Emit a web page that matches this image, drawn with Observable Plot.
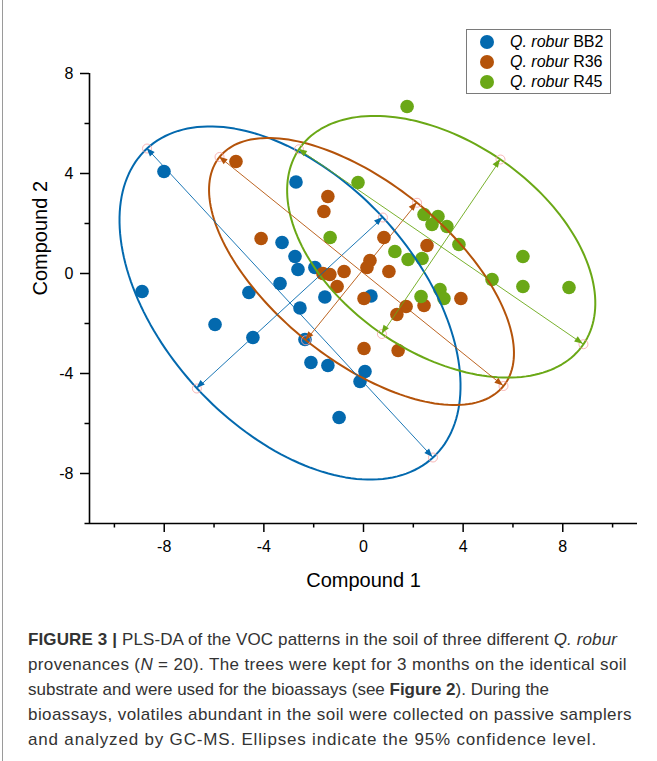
<!DOCTYPE html>
<html><head><meta charset="utf-8">
<script src="https://cdn.jsdelivr.net/npm/d3@7"></script>
<script src="https://cdn.jsdelivr.net/npm/@observablehq/plot@0.6"></script>
<style>
body{margin:0;background:#fff;}
#wrap{position:relative;width:657px;height:761px;overflow:hidden;font-family:"Liberation Sans",Arial,sans-serif;background:#fff;}
#border{position:absolute;left:2px;top:0;width:1px;height:761px;background:#9a9a9a;}
#chart{position:absolute;left:0;top:0;}
#legendBox{position:absolute;left:466px;top:29px;width:145px;height:65px;border:1px solid #7a7a7a;box-sizing:border-box;background:#fff;}
.lg-dot{position:absolute;width:14px;height:14px;border-radius:50%;}
.lg-txt{position:absolute;font-size:16px;line-height:20px;color:#000;white-space:nowrap;}
#caption{position:absolute;left:28px;top:627px;font-size:17px;line-height:25px;color:#333;}
#caption .ln{white-space:nowrap;height:25px;}
#caption .ln span.m{display:inline-block;}
</style></head>
<body>
<div id="wrap">
  <div id="border"></div>
  <div id="chart"></div>
  <div id="legendBox"></div>
  <div id="legendItems"></div>
  <div id="caption">
    <div class="ln"><span class="m"><b>FIGURE 3 |</b> PLS-DA of the VOC patterns in the soil of three different <i>Q. robur</i></span></div>
    <div class="ln"><span class="m">provenances (<i>N</i> = 20). The trees were kept for 3 months on the identical soil</span></div>
    <div class="ln"><span class="m">substrate and were used for the bioassays (see <b>Figure 2</b>). During the</span></div>
    <div class="ln"><span class="m">bioassays, volatiles abundant in the soil were collected on passive samplers</span></div>
    <div class="ln"><span class="m">and analyzed by GC-MS. Ellipses indicate the 95% confidence level.</span></div>
  </div>
</div>
<script>
// ---- data ----
const groups = ["BB2", "R36", "R45"];
const colors = ["#0369ae", "#b4530a", "#6aa816"];

const bb2X = [-8.01, -8.89, -5.96, -4.60, -4.44, -2.71, -3.27, -2.75, -2.63, -1.95, -3.35, -2.55, -1.55, -2.35, -2.11, -1.43, 0.06, -0.14, -0.98, 0.30];
const bb2Y = [4.08, -0.72, -2.04, -0.76, -2.56, 3.66, 1.24, 0.68, 0.16, 0.24, -0.40, -1.38, -0.94, -2.64, -3.56, -3.68, -3.92, -4.32, -5.76, -0.90];

const r36X = [-5.12, -4.11, -1.43, -1.59, 0.82, 2.55, 0.26, 0.14, -0.78, -1.63, -1.35, 1.02, -1.06, 0.02, 1.71, 1.34, 2.43, 3.91, 0.02, 1.39];
const r36Y = [4.48, 1.40, 3.08, 2.48, 1.44, 1.12, 0.52, 0.24, 0.08, 0.00, -0.04, 0.08, -0.52, -1.00, -1.32, -1.64, -1.28, -1.00, -3.00, -3.08];

const r45X = [1.75, -0.22, -1.34, 2.43, 2.99, 2.75, 3.35, 3.83, 1.26, 1.79, 2.35, 3.07, 3.23, 2.31, 5.16, 6.40, 6.40, 8.25];
const r45Y = [6.68, 3.64, 1.44, 2.36, 2.28, 1.96, 1.88, 1.16, 0.88, 0.56, 0.60, -0.64, -1.00, -0.92, -0.24, 0.68, -0.52, -0.56];

// 95% confidence ellipses: centre and the two ends of each principal axis
const ellipseCenterX = [-2.95, -0.08, 3.12];
const ellipseCenterY = [-1.18, 0.08, 1.07];
const majorEndX = [[-8.69, 2.79], [-5.78, 5.62], [-2.59, 8.83]];
const majorEndY = [[5.00, -7.36], [4.66, -4.50], [4.97, -2.83]];
const minorEndX = [[0.78, -6.69], [2.15, -2.31], [5.50, 0.74]];
const minorEndY = [[2.24, -4.60], [2.83, -2.67], [4.56, -2.42]];

const majorTicks = [-8, -4, 0, 4, 8];
const minorXTicks = [-10, -6, -2, 2, 6, 10];
const minorYTicks = [-10, -6, -2, 2, 6];

// ---- build tables ----
const seriesX = [bb2X, r36X, r45X], seriesY = [bb2Y, r36Y, r45Y];
const points = [];
groups.forEach((g, gi) => seriesX[gi].forEach((x, i) => points.push({g, x, y: seriesY[gi][i]})));

const ellipsePts = [];
const axisLines = [];
const axisEnds = [];
groups.forEach((g, gi) => {
  const cx = ellipseCenterX[gi], cy = ellipseCenterY[gi];
  const ax = majorEndX[gi][1] - cx, ay = majorEndY[gi][1] - cy;
  const bx = minorEndX[gi][0] - cx, by = minorEndY[gi][0] - cy;
  for (let k = 0; k <= 180; k++) {
    const t = k / 180 * 2 * Math.PI;
    ellipsePts.push({g, x: cx + Math.cos(t) * ax + Math.sin(t) * bx, y: cy + Math.cos(t) * ay + Math.sin(t) * by});
  }
  axisLines.push({g, x1: majorEndX[gi][0], y1: majorEndY[gi][0], x2: majorEndX[gi][1], y2: majorEndY[gi][1]});
  axisLines.push({g, x1: minorEndX[gi][0], y1: minorEndY[gi][0], x2: minorEndX[gi][1], y2: minorEndY[gi][1]});
  for (let j = 0; j < 2; j++) {
    axisEnds.push({g, x: majorEndX[gi][j], y: majorEndY[gi][j], cx, cy});
    axisEnds.push({g, x: minorEndX[gi][j], y: minorEndY[gi][j], cx, cy});
  }
});

const colorOf = g => colors[groups.indexOf(g)];

const plot = Plot.plot({
  width: 657,
  height: 600,
  marginLeft: 89,
  marginRight: 20,
  marginTop: 73,
  marginBottom: 77,
  x: {domain: [-11, 11], label: null},
  y: {domain: [-10, 8], label: null},
  style: {fontFamily: "Liberation Sans, Arial, sans-serif", fontSize: "16px", color: "#000", background: "transparent", overflow: "visible"},
  marks: [
    Plot.dot(points, {x: "x", y: "y", r: 6.8, fill: d => colorOf(d.g), stroke: null}),
    Plot.line(ellipsePts, {x: "x", y: "y", z: "g", stroke: d => colorOf(d.g), strokeWidth: 2}),
    Plot.link(axisLines, {x1: "x1", y1: "y1", x2: "x2", y2: "y2", stroke: d => colorOf(d.g), strokeWidth: 0.9}),
    Plot.dot(axisEnds, {x: "x", y: "y", r: 4.5, stroke: "#f6a3a3", strokeWidth: 0.8, fill: "none"}),
    Plot.ruleX([-11], {stroke: "#000", strokeWidth: 1.6}),
    Plot.ruleY([-10], {stroke: "#000", strokeWidth: 1.6}),
    Plot.axisX({ticks: majorTicks, tickSize: 9, tickPadding: 8, tickFormat: d => String(d), fontSize: 16, strokeWidth: 1.5, label: null}),
    Plot.axisX({ticks: minorXTicks, tickSize: 4.5, tickFormat: () => "", strokeWidth: 1.5, label: null}),
    Plot.axisY({ticks: majorTicks, tickSize: 9, tickPadding: 7, tickFormat: d => String(d), fontSize: 16, strokeWidth: 1.5, label: null}),
    Plot.axisY({ticks: minorYTicks, tickSize: 4.5, tickFormat: () => "", strokeWidth: 1.5, label: null}),
    Plot.text(["Compound 1"], {text: d => d, frameAnchor: "bottom", dy: 57, fontSize: 20, lineAnchor: "middle", fill: "#000"}),
    Plot.text(["Compound 2"], {text: d => d, frameAnchor: "left", dx: -49, dy: -3, rotate: -90, fontSize: 20, lineAnchor: "middle", fill: "#000"})
  ]
});
document.getElementById("chart").appendChild(plot);

// filled arrowheads at both ends of every principal axis, positioned with Plot's scales
const sx = plot.scale("x"), sy = plot.scale("y");
const svg = d3.select(plot.tagName.toLowerCase() === "svg" ? plot : plot.querySelector("svg"));
const headLen = 8.5, headHalf = 3.2;
axisEnds.forEach(e => {
  const px = sx.apply(e.x), py = sy.apply(e.y);
  const qx = sx.apply(e.cx), qy = sy.apply(e.cy);
  const L = Math.hypot(px - qx, py - qy);
  const ux = (px - qx) / L, uy = (py - qy) / L;
  const bx = px - ux * headLen, by = py - uy * headLen;
  const nx = -uy, ny = ux;
  svg.append("polygon")
    .attr("points", `${px},${py} ${bx + nx * headHalf},${by + ny * headHalf} ${bx - nx * headHalf},${by - ny * headHalf}`)
    .attr("fill", colorOf(e.g));
});

// legend
const legendRowsY = [42, 62, 82];
const li = document.getElementById("legendItems");
groups.forEach((g, i) => {
  const dot = document.createElement("div");
  dot.className = "lg-dot";
  dot.style.left = (487 - 7) + "px";
  dot.style.top = (legendRowsY[i] - 7) + "px";
  dot.style.background = colors[i];
  li.appendChild(dot);
  const t = document.createElement("div");
  t.className = "lg-txt";
  t.style.left = "510px";
  t.style.top = (legendRowsY[i] - 10) + "px";
  t.innerHTML = "<i>Q. robur</i> " + g;
  li.appendChild(t);
});

// caption line widths (right edge of each printed line in the figure)
const captionLineRight = [617, 627, 549, 632, 597];
document.querySelectorAll("#caption .m").forEach((s, i) => {
  const w = s.getBoundingClientRect().width;
  const n = s.textContent.length;
  const target = captionLineRight[i] - 28;
  let ls = (target - w) / n;
  ls = Math.max(-0.6, Math.min(1.2, ls));
  s.style.letterSpacing = ls + "px";
});
</script>
</body></html>
